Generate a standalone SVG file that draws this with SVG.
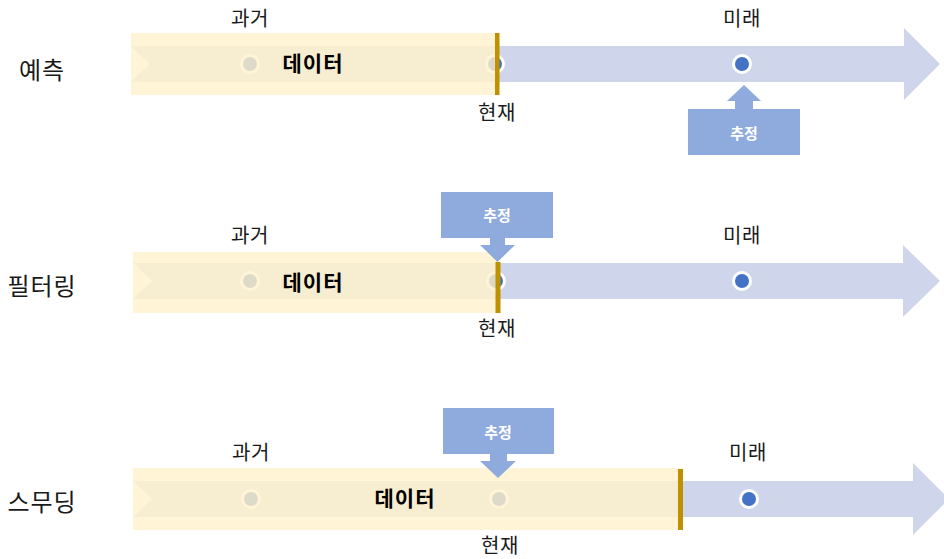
<svg xmlns="http://www.w3.org/2000/svg" width="944" height="559" viewBox="0 0 944 559">
<style>
text{font-family:"Noto Sans CJK KR","Noto Sans",sans-serif;fill:#1a1a1a;text-anchor:middle}
.row{font-size:24px;letter-spacing:1px}
.lbl{font-size:20px;letter-spacing:0.5px}
.data{font-size:21px;font-weight:bold;fill:#000;letter-spacing:1px}
.est{font-size:15px;font-weight:bold;fill:#fff}
.arrow{fill:#CFD5EA}
.yellow{fill:#FFF2CC;fill-opacity:0.82}
.bar{fill:#BF9000}
.dot{fill:#4472C4;stroke:#fff;stroke-width:3}
.box{fill:#8FAADC}
</style>
<g id="row1">
<text class="row" x="42" y="79">예측</text>
<path class="arrow" d="M131,46 L904,46 L904,28 L940,64 L904,100 L904,82 L131,82 L150,64 Z"/>
<circle class="dot" cx="250" cy="64" r="8.5"/>
<circle class="dot" cx="495" cy="64" r="8.5"/>
<circle class="dot" cx="742" cy="64" r="8.5"/>
<rect class="yellow" x="131" y="33" width="366" height="62"/>
<rect class="bar" x="495" y="33" width="4.5" height="62"/>
<text class="data" x="313" y="71">데이터</text>
<text class="lbl" x="250" y="25.5">과거</text>
<text class="lbl" x="742" y="25.5">미래</text>
<text class="lbl" x="497" y="119.5">현재</text>
</g>
<g id="est1">
<rect class="box" x="688" y="109" width="112" height="46"/>
<path class="box" d="M735,110 L735,101 L727,101 L744,85 L761,101 L753,101 L753,110 Z"/>
<text class="est" x="744" y="138.5">추정</text>
</g>
<g id="row2">
<text class="row" x="42" y="295">필터링</text>
<path class="arrow" d="M133,263 L903,263 L903,245 L940,281 L903,317 L903,299 L133,299 L152,281 Z"/>
<circle class="dot" cx="250" cy="281" r="8.5"/>
<circle class="dot" cx="496" cy="281" r="8.5"/>
<circle class="dot" cx="742" cy="281" r="8.5"/>
<rect class="yellow" x="133" y="252" width="364" height="61"/>
<rect class="bar" x="495.5" y="262" width="5" height="51"/>
<text class="data" x="313" y="289.5">데이터</text>
<text class="lbl" x="250" y="242.5">과거</text>
<text class="lbl" x="742" y="242.5">미래</text>
<text class="lbl" x="497" y="335.5">현재</text>
</g>
<g id="est2">
<rect class="box" x="441" y="192" width="112" height="46"/>
<path class="box" d="M490,237 L490,245 L480,245 L497.5,262 L515,245 L505,245 L505,237 Z"/>
<text class="est" x="497" y="220.5">추정</text>
</g>
<g id="row3">
<text class="row" x="42" y="511">스무딩</text>
<path class="arrow" d="M133,481 L913,481 L913,463 L949,499 L913,535 L913,517 L133,517 L152,499 Z"/>
<circle class="dot" cx="251" cy="499" r="8.5"/>
<circle class="dot" cx="499" cy="499" r="8.5"/>
<circle class="dot" cx="749" cy="499" r="8.5"/>
<rect class="yellow" x="133" y="468" width="549" height="62"/>
<rect class="bar" x="678" y="469" width="5" height="61"/>
<text class="data" x="405" y="505.5">데이터</text>
<text class="lbl" x="251" y="459.5">과거</text>
<text class="lbl" x="748" y="459.5">미래</text>
<text class="lbl" x="500" y="553">현재</text>
</g>
<g id="est3">
<rect class="box" x="443" y="408" width="111" height="46"/>
<path class="box" d="M490,453 L490,461 L480,461 L498,478 L516,461 L507,461 L507,453 Z"/>
<text class="est" x="498" y="437.5">추정</text>
</g>
<g id="connectors"></g>
</svg>
